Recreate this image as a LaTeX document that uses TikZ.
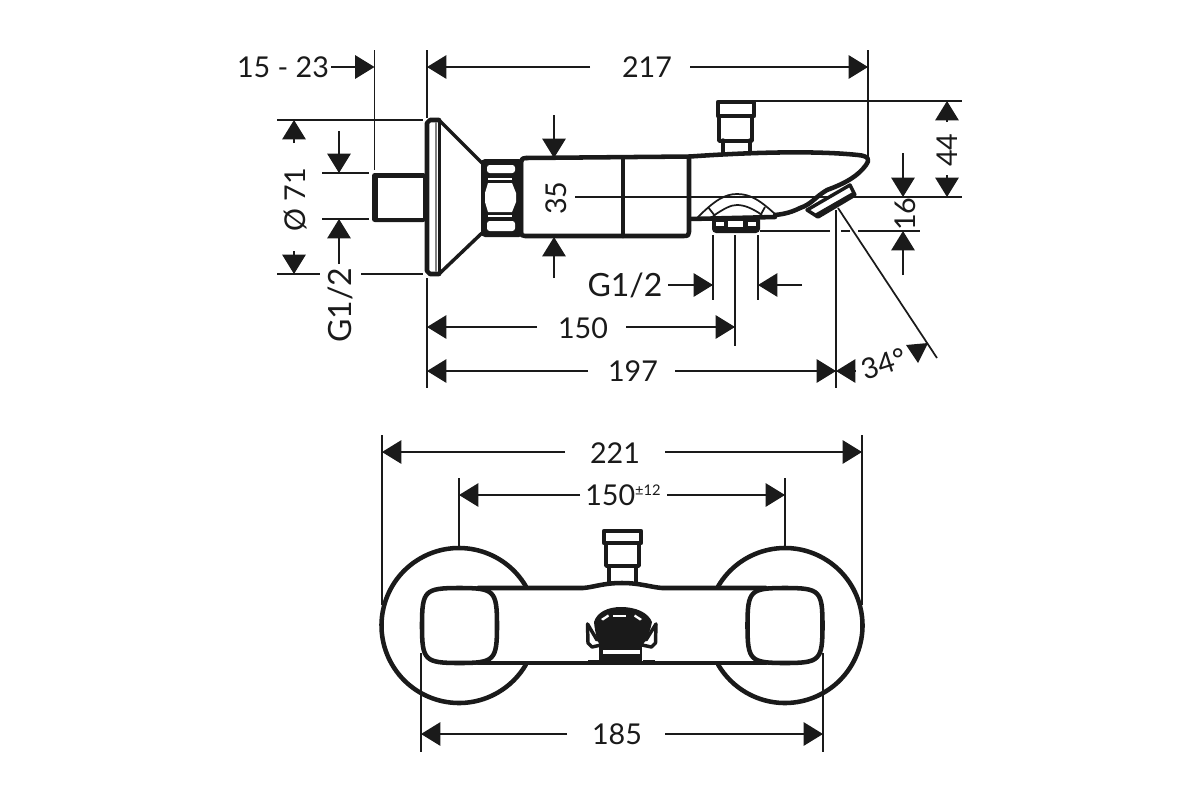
\documentclass[tikz,border=0pt]{standalone}
\usepackage{fontspec}
\setmainfont{Lato}
\usetikzlibrary{arrows.meta}
\definecolor{ink}{HTML}{1A1A1A}
\tikzset{
 dimline/.style={draw=ink,line width=1.3pt},
 dimarrow/.style={draw=ink,line width=1.3pt,-{Triangle[length=14.5pt,width=17.5pt,fill=ink]}},
 outline/.style={draw=ink,line width=3.4pt,line join=round,line cap=round},
 midout/.style={draw=ink,line width=2.6pt,line join=round,line cap=round},
 thinout/.style={draw=ink,line width=1.3pt,line join=round},
 lab/.style={text=ink,font=\fontsize{21.5}{24}\selectfont,inner sep=0pt},
 vlab/.style={lab,rotate=90},
 glab/.style={text=ink,font=\fontsize{24}{26}\selectfont,inner sep=0pt},
 hole/.style={fill=white,draw=none}
}
\newcommand{\squircle}[2]{%
  \draw[outline] (#1-37.5,#2) .. controls (#1-37.5,#2-35) and (#1-35,#2-37.5) .. (#1,#2-37.5)
   .. controls (#1+35,#2-37.5) and (#1+37.5,#2-35) .. (#1+37.5,#2)
   .. controls (#1+37.5,#2+35) and (#1+35,#2+37.5) .. (#1,#2+37.5)
   .. controls (#1-35,#2+37.5) and (#1-37.5,#2+35) .. (#1-37.5,#2) -- cycle;}
\begin{document}
\begin{tikzpicture}[x=0.75pt,y=-0.75pt]
\useasboundingbox (0,0) rectangle (1200,800);
% ---- extension lines, side view
\draw[dimline] (374.5,50) -- (374.5,170);
\draw[dimline] (427,50) -- (427,118);
\draw[dimline] (868,50) -- (868,158);
\draw[dimline] (277,120) -- (423,120);
\draw[dimline] (277,274) -- (320,274);
\draw[dimline] (361,274) -- (423,274);
\draw[dimline] (322,173) -- (369,173);
\draw[dimline] (322,219) -- (369,219);
\draw[dimline] (735,101) -- (962,101);
\draw[dimline] (575,197) -- (962,197);
\draw[dimline] (760,231) -- (830,231);
\draw[dimline] (841,231) -- (850,231);
\draw[dimline] (858,231) -- (920,231);
\draw[dimline] (713,235) -- (713,300);
\draw[dimline] (758,235) -- (758,300);
\draw[dimline] (735,235) -- (735,346);
\draw[dimline] (427,278) -- (427,388);
\draw[dimline] (836,210) -- (836,388);
\draw[dimline] (838,208) -- (937,358);
% ---- dimensions, side view
\node[lab] (d1523) at (283,67) {15 - 23};
\draw[dimarrow] (331,67) -- (374.5,67);
\node[lab] (d217) at (647,67) {217};
\draw[dimarrow] (590,67) -- (427,67);
\draw[dimarrow] (690,67) -- (868,67);
\node[vlab] (d71) at (296,200) {Ø 71};
\draw[dimarrow] (294,143) -- (294,120);
\draw[dimarrow] (294,251) -- (294,274);
\draw[dimarrow] (339,131) -- (339,173);
\draw[dimarrow] (339,264) -- (339,219);
\node[glab,rotate=90] (dg1) at (340,305) {G1/2};
\draw[dimarrow] (554,115) -- (554,158);
\draw[dimarrow] (554,278) -- (554,237);
\node[vlab] (d35) at (556,198) {35};
\node[vlab] (d44) at (947,150) {44};
\draw[dimarrow] (947,122) -- (947,101);
\draw[dimarrow] (947,175) -- (947,197);
\draw[dimarrow] (903,153) -- (903,197);
\draw[dimarrow] (903,275) -- (903,231);
\node[vlab] (d16) at (905,214) {16};
\node[glab] (dg2) at (625,285) {G1/2};
\draw[dimarrow] (668,285) -- (713,285);
\draw[dimarrow] (802,285) -- (758,285);
\node[lab] (d150) at (583,328) {150};
\draw[dimarrow] (626,327) -- (735,327);
\draw[dimarrow] (537,327) -- (427,327);
\node[lab] (d197) at (633,371) {197};
\draw[dimarrow] (588,371) -- (427,371);
\draw[dimarrow] (675,371) -- (836,371);
\draw[dimarrow] (856,371) -- (836,371);
\node[lab,rotate=18] (d34) at (884,364) {34°};
\fill[ink] (906,345) -- (928,343) -- (918,363) -- cycle;
% ---- side view: stub, flange
\fill[ink,rounded corners=2pt] (372,173) rectangle (426,222);
\fill[hole] (377.5,177.5) rectangle (423,218);
\draw[outline] (439,120) -- (430,120) -- (427,123) -- (427,271) -- (430,274) -- (439,274);
\draw[midout] (439,120) -- (482,163);
\draw[midout] (439,274) -- (482,233);
\draw[midout] (439.5,122) -- (439.5,272);
\draw[draw=ink!55,line width=1pt] (436,122) -- (436,272);
% nut
\fill[ink,rounded corners=3pt] (481,159) rectangle (523,237);
\fill[hole,rounded corners=2pt] (487,165) rectangle (515,173);
\fill[hole,rounded corners=2pt] (487,221) rectangle (515,231);
\fill[hole] (488,178) rectangle (512,179.5);
\fill[hole] (488,215) rectangle (512,216.5);
\fill[hole] (488,183) -- (512,183) -- (516,193) -- (516,202) -- (512,212) -- (488,212) -- (485,202) -- (485,193) -- cycle;
% ---- side view: body and spout
\draw[outline] (526,158) -- (690,156.5) .. controls (740,153) and (810,150) .. (858,155)
  .. controls (869,156) and (870,160) .. (866,165)
  .. controls (858,176) and (846,183) .. (827,190)
  .. controls (815,197) and (812,204) .. (800,208)
  .. controls (792,212) and (785,214) .. (775,215);
\draw[outline] (526,158) .. controls (522,158) and (521,160) .. (521,163) -- (521,232)
  .. controls (521,235) and (522,236) .. (525,236) -- (684,236)
  .. controls (688,236) and (689,235) .. (689,232) -- (689,158);
\draw[outline] (623,158) -- (623,236);
\draw[outline] (690,219) -- (775,217);
% hump
\draw[thinout] (697,218) .. controls (715,200) and (725,194) .. (737,194) .. controls (750,194) and (760,200) .. (776,215);
\draw[thinout] (713,216) .. controls (725,208) and (731,205) .. (737,205) .. controls (744,205) and (752,208) .. (762,215);
\draw[thinout] (708,207) -- (715,216);
\draw[thinout] (765,207) -- (760,216);
% bottom nut
\fill[ink,rounded corners=3pt] (712,216) rectangle (760,233);
\fill[white] (716,222) rectangle (724,226);
\fill[white] (728,221) rectangle (743,227);
\fill[white] (748,222) rectangle (756,226);
% nozzle
\draw[midout,fill=white] (807,210) -- (818,217) -- (855,195) -- (850,185) -- cycle;
\draw[line width=3pt,ink] (815,216) -- (855,193);
% cartridge
\draw[midout] (723,153) -- (723,140);
\draw[midout] (750,153) -- (750,140);
\draw[midout] (719,117) -- (719,141) -- (752,141) -- (752,117);
\draw[outline] (718,102) -- (754,102) -- (754,116) -- (718,116) -- cycle;
% ---- front view: dims
\draw[dimline] (382,435) -- (382,605);
\draw[dimline] (862,435) -- (862,605);
\draw[dimline] (459,478) -- (459,547);
\draw[dimline] (785,478) -- (785,547);
\draw[dimline] (421,653) -- (421,752);
\draw[dimline] (823,653) -- (823,752);
\node[lab] (d221) at (615,453) {221};
\draw[dimarrow] (565,452) -- (382,452);
\draw[dimarrow] (665,452) -- (862,452);
\node[lab] (d150b) at (623,495) {150\raisebox{7pt}{\fontsize{11}{12}\selectfont ±12}};
\draw[dimarrow] (580,495) -- (459,495);
\draw[dimarrow] (667,495) -- (785,495);
\node[lab] (d185) at (617,734) {185};
\draw[dimarrow] (567,734) -- (421,734);
\draw[dimarrow] (665,734) -- (823,734);
% ---- front view: rosettes, body
\draw[outline] (459,625.5) ++(-30.3:77.5) arc[start angle=-30.3,end angle=-329.7,radius=77.5];
\draw[outline] (785,625.5) ++(-149.7:77.5) arc[start angle=-149.7,end angle=149.7,radius=77.5];
\draw[outline] (478,588) -- (583,588) .. controls (595,587) and (603,583) .. (622,583)
   .. controls (640,583) and (650,587) .. (662,588) -- (766,588);
\draw[outline] (478,663) -- (766,663);
\squircle{459.5}{625.5}
\squircle{785}{625.5}
% cartridge, front
\draw[midout] (609,582) -- (609,566);
\draw[midout] (636,582) -- (636,566);
\draw[midout] (606,544) -- (606,566) -- (639,566) -- (639,544);
\draw[outline] (604,531) -- (641,531) -- (641,543) -- (604,543) -- cycle;
% centre fitting, front
\fill[ink] (599,645) rectangle (642,664);
\fill[hole] (603,650) rectangle (640,654);
\fill[ink] (594,622) .. controls (597,612) and (608,607) .. (621,607)
   .. controls (635,607) and (648,612) .. (652,622)
   .. controls (650,633) and (644,645) .. (640,648) -- (602,648)
   .. controls (598,645) and (595,633) .. (594,622) -- cycle;
\fill[hole] (601,619) -- (608,614.5) -- (609,616.5) -- (603,620.5) -- cycle;
\fill[hole] (613,615) -- (626,615) -- (626,617) -- (613,617) -- cycle;
\fill[hole] (635,614.5) -- (642,619) -- (640,620.5) -- (634,616.5) -- cycle;
\draw[midout] (587.5,624) -- (588,643) -- (592,647) -- (601,645);
\draw[midout] (587.5,624) -- (597,640);
\draw[midout] (656,624) -- (655.5,643) -- (651.5,647) -- (642,645);
\draw[midout] (656,624) -- (646,640);
\fill[ink] (588,660) rectangle (600,662);
\fill[ink] (643,660) rectangle (655,662);
\end{tikzpicture}
\end{document}
